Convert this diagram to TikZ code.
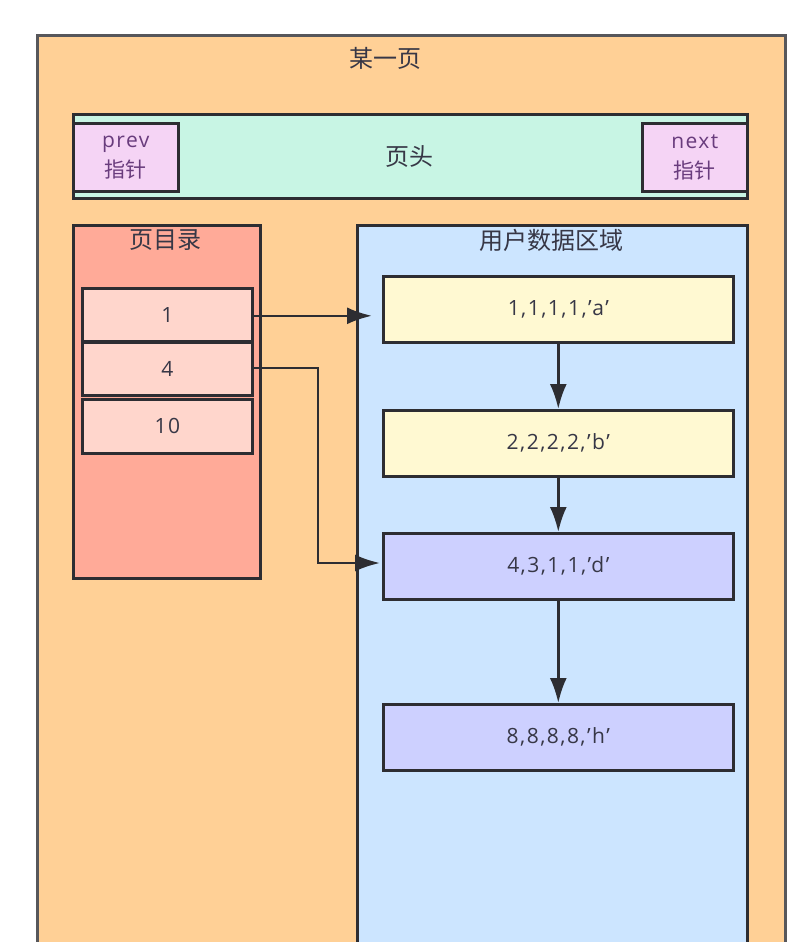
\documentclass[tikz,border=0pt]{standalone}
\usepackage{fontspec}
\setmainfont{Open Sans}
\newfontfamily\cjk{Noto Sans CJK SC}
\newfontfamily\chiffres[LetterSpace=7,Ligatures=TeX]{Open Sans}
\usepackage{tikz}
\usetikzlibrary{
	calc,
	arrows.meta,
	positioning
	}
\definecolor{fond-page}{RGB}{255,208,150}
\definecolor{fond-tete}{RGB}{200,245,228}
\definecolor{fond-ptr}{RGB}{245,212,245}
\definecolor{fond-rep}{RGB}{255,170,152}
\definecolor{fond-case}{RGB}{255,214,204}
\definecolor{fond-user}{RGB}{204,229,255}
\definecolor{fond-jaune}{RGB}{255,249,210}
\definecolor{fond-mauve}{RGB}{205,208,255}
\definecolor{trait}{RGB}{45,45,50}
\definecolor{texte}{RGB}{55,55,70}
\definecolor{texte-ptr}{RGB}{105,60,125}
\tikzstyle{bloc-std}=[draw=trait,line width=2.6pt,rectangle,inner sep=0pt,anchor=north west]
\tikzstyle{case-std}=[bloc-std,fill=fond-case,minimum width=170pt,text=texte,font=\chiffres\fontsize{21}{24}\selectfont]
\tikzstyle{ligne-std}=[bloc-std,minimum width=350pt,minimum height=66pt,text=texte,font=\chiffres\fontsize{21}{24}\selectfont]
\tikzstyle{ptr-std}=[bloc-std,fill=fond-ptr,minimum height=68pt,align=center,text=texte-ptr,font=\chiffres\fontsize{21}{30}\selectfont]
\tikzstyle{titre-std}=[text=texte,font=\cjk\fontsize{24}{26}\selectfont]
\tikzstyle{fleche-std}=[draw=trait,line width=2.6pt,-{Latex[length=25pt,width=17pt]}]

\begin{document}
\begin{tikzpicture}[x=1pt,y=-1pt]
\useasboundingbox (0,0) rectangle (811,942);
\clip (0,0) rectangle (811,942);
\fill[white] (0,0) rectangle (811,942);

\node[bloc-std,fill=fond-page,draw=trait!80,minimum width=748pt,minimum height=940pt] (page) at (36,34) {};
\node[titre-std] (titre-page) at (385,58) {某一页};

\node[bloc-std,fill=fond-tete,minimum width=674pt,minimum height=84pt] (tete) at (72,113) {};
\node[titre-std] at (409,157) {页头};
\node[ptr-std,minimum width=105pt] (prev) at (72,122) {prev\\{\cjk 指针}};
\node[ptr-std,minimum width=105pt] (next) at (641,122) {next\\{\cjk 指针}};

\node[bloc-std,fill=fond-rep,minimum width=187pt,minimum height=353pt] (rep) at (72,224) {};
\node[titre-std] at (165,240) {页目录};
\node[case-std,minimum height=53pt] (case1) at (81,287) {1};
\node[case-std,minimum height=53pt] (case4) at (81,341) {4};
\node[case-std,minimum height=54pt] (case10) at (81,398) {10};

\node[bloc-std,fill=fond-user,minimum width=390pt,minimum height=740pt] (user) at (356,224) {};
\node[titre-std] at (551,240) {用户数据区域};
\node[ligne-std,fill=fond-jaune] (ligne1) at (382,275) {1,1,1,1,'a'};
\node[ligne-std,fill=fond-jaune] (ligne2) at (382,409) {2,2,2,2,'b'};
\node[ligne-std,fill=fond-mauve] (ligne3) at (382,532) {4,3,1,1,'d'};
\node[ligne-std,fill=fond-mauve] (ligne4) at (382,703) {8,8,8,8,'h'};

\draw[fleche-std,shorten >=10pt] ($(case1.east)+(0,1)$) -- ($(ligne1.west |- case1.east)+(0,1)$);
\draw[fleche-std,shorten >=2pt] ($(case4.east)+(0,-1)$) -| (318,563) -- (ligne3.west |- 0,563);
\draw[fleche-std] (ligne1.south) -- (ligne2.north);
\draw[fleche-std] (ligne2.south) -- (ligne3.north);
\draw[fleche-std] (ligne3.south) -- (ligne4.north);
\end{tikzpicture}
\end{document}
